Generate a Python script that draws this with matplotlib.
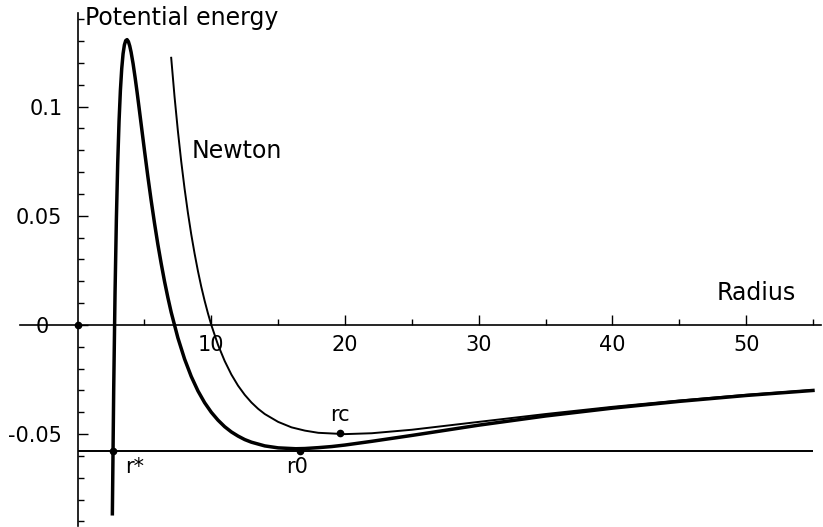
import numpy as np
import matplotlib.pyplot as plt
from matplotlib.ticker import FixedLocator, MultipleLocator

# Effective potential (relativistic)
r_gr = [2.6, 2.7, 2.8, 2.9, 3.0, 3.1, 3.2, 3.3, 3.4, 3.5, 3.6, 3.7, 3.8, 3.9,
        4.0, 4.15, 4.3, 4.45, 4.6, 4.8, 5.0, 5.25, 5.5, 5.75, 6.0, 6.25, 6.5,
        6.75, 7.0, 7.5, 8.0, 8.5, 9.0, 9.5, 10.0, 10.5, 11.0, 11.5, 12.0,
        12.5, 13.0, 14.0, 15.0, 16.32, 17.0, 18.0, 19.0, 20.0, 22.0,
        25.0, 30.0, 35.0, 40.0, 45.0, 50.0, 55.0]
v_gr = [-0.0865, -0.0295, 0.0146, 0.0484, 0.0741, 0.0933, 0.1074, 0.1174,
        0.1242, 0.1283, 0.1303, 0.1307, 0.1298, 0.1278, 0.1250, 0.1197,
        0.1134, 0.1066, 0.0994, 0.0897, 0.0800, 0.0682, 0.0571, 0.0467,
        0.0370, 0.0282, 0.0200, 0.0126, 0.0058, -0.0059, -0.0156, -0.0236,
        -0.0302, -0.0356, -0.0400, -0.0436, -0.0466, -0.0490, -0.0509,
        -0.0525, -0.0537, -0.0554, -0.0563, -0.0567, -0.0566, -0.0562,
        -0.0557, -0.0550, -0.0533, -0.0506, -0.0459, -0.0417, -0.0381,
        -0.0350, -0.0323, -0.0300]

# Newtonian potential
r_newton = [7.0, 7.25, 7.5, 7.75, 8.0, 8.25, 8.5, 8.75, 9.0, 9.25, 9.5, 9.75,
            10.0, 10.5, 11.0, 11.5, 12.0, 12.5, 13.0, 13.5, 14.0, 15.0, 16.0,
            17.0, 18.0, 20.0, 22.0, 25.0, 30.0, 35.0, 40.0, 45.0, 50.0, 55.0]
v_newton = [0.1224, 0.1046, 0.0889, 0.0749, 0.0625, 0.0514, 0.0415, 0.0327,
            0.0247, 0.0175, 0.0111, 0.0053, 0.0, -0.0091, -0.0165, -0.0227,
            -0.0278, -0.0320, -0.0355, -0.0384, -0.0408, -0.0444, -0.0469,
            -0.0484, -0.0494, -0.0500, -0.0496, -0.0480, -0.0444, -0.0408,
            -0.0375, -0.0346, -0.0320, -0.0298]

energy_level = -0.0576
r_max = 55.0

point_names = ['r*', 'r0', 'rc']
point_r = [2.64, 16.6, 19.6]
point_v = [-0.0576, -0.0576, -0.0497]

fig = plt.figure(figsize=(8.23, 5.27), dpi=100)
ax = fig.add_axes([77.6/823, 1.2/527, (821 - 77.6)/823, (525.8 - 12.8)/527])

ax.plot(r_gr, v_gr, color='black', lw=2.5)
ax.plot(r_newton, v_newton, color='black', lw=1.4)
ax.hlines(energy_level, 0, r_max, color='black', lw=1.4)
ax.plot(point_r, point_v, 'o', color='black', ms=4.5)
ax.plot([0], [0], 'o', color='black', ms=4.5, clip_on=False, zorder=5)

ax.set_xlim(0, 55.6)
ax.set_ylim(-0.092, 0.143)

for side in ('top', 'right'):
    ax.spines[side].set_visible(False)
ax.spines['bottom'].set_position(('data', 0))
ax.spines['left'].set_position(('data', 0))
ax.spines['bottom'].set_visible(False)
ax.spines['left'].set_linewidth(1.2)
# x axis line runs a bit past the y axis, like the original
ax.plot([-57.6/(821 - 77.6), 1], [0, 0], color='black', lw=1.2,
        transform=ax.get_yaxis_transform(), clip_on=False)

ax.xaxis.set_major_locator(FixedLocator([10, 20, 30, 40, 50]))
ax.xaxis.set_minor_locator(FixedLocator([5, 15, 25, 35, 45, 55]))
ax.set_xticklabels(['10', '20', '30', '40', '50'])
ax.yaxis.set_major_locator(FixedLocator([-0.05, 0, 0.05, 0.1]))
ax.yaxis.set_minor_locator(MultipleLocator(0.01))
ax.set_yticklabels(['-0.05', '0  ', '0.05', '0.1'])

ax.tick_params(axis='both', which='major', direction='in', length=7,
               width=1, labelsize=15)
ax.tick_params(axis='both', which='minor', direction='in', length=4, width=1)
ax.tick_params(axis='x', which='major', pad=7)
ax.tick_params(axis='y', which='major', pad=11)

ax.text(0.55, 0.1406, 'Potential energy', fontsize=17, va='center', ha='left')
ax.text(47.8, 0.0145, 'Radius', fontsize=17, va='center', ha='left')
ax.text(8.5, 0.0795, 'Newton', fontsize=17, va='center', ha='left')
label_dx = [0.95, -1.0, -0.7]
label_dv = [-0.0075, -0.0075, 0.0085]
for name, r, v, dx, dv in zip(point_names, point_r, point_v, label_dx, label_dv):
    ax.text(r + dx, v + dv, name, fontsize=15, va='center', ha='left')

plt.savefig('out.png', dpi=100)
